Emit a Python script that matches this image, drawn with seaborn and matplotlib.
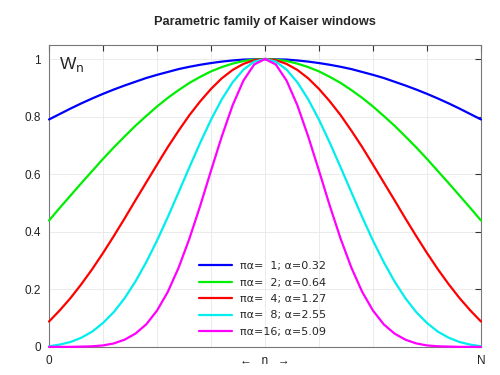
import numpy as np
import pandas as pd
import matplotlib
matplotlib.use("Agg")
import matplotlib.pyplot as plt
import seaborn as sns

# ------------------------------------------------------------
# data: window value W_n at 41 sample positions n/N (0 .. 1)
# ------------------------------------------------------------
n_pos = np.linspace(0, 1, 41)

w_pa1 = [0.790, 0.809, 0.828, 0.846, 0.863, 0.879, 0.894, 0.908, 0.921, 0.934,
         0.945, 0.955, 0.965, 0.973, 0.980, 0.986, 0.991, 0.995, 0.998, 0.999,
         1.000,
         0.999, 0.998, 0.995, 0.991, 0.986, 0.980, 0.973, 0.965, 0.955, 0.945,
         0.934, 0.921, 0.908, 0.894, 0.879, 0.863, 0.846, 0.828, 0.809, 0.790]

w_pa2 = [0.439, 0.483, 0.526, 0.569, 0.611, 0.653, 0.693, 0.731, 0.768, 0.802,
         0.835, 0.865, 0.892, 0.917, 0.938, 0.957, 0.972, 0.984, 0.993, 0.998,
         1.000,
         0.998, 0.993, 0.984, 0.972, 0.957, 0.938, 0.917, 0.892, 0.865, 0.835,
         0.802, 0.768, 0.731, 0.693, 0.653, 0.611, 0.569, 0.526, 0.483, 0.439]

w_pa4 = [0.088, 0.127, 0.170, 0.218, 0.270, 0.326, 0.385, 0.446, 0.509, 0.571,
         0.633, 0.694, 0.751, 0.805, 0.853, 0.896, 0.933, 0.962, 0.983, 0.996,
         1.000,
         0.996, 0.983, 0.962, 0.933, 0.896, 0.853, 0.805, 0.751, 0.694, 0.633,
         0.571, 0.509, 0.446, 0.385, 0.326, 0.270, 0.218, 0.170, 0.127, 0.088]

w_pa8 = [0.002, 0.008, 0.017, 0.032, 0.053, 0.083, 0.121, 0.169, 0.227, 0.294,
         0.369, 0.451, 0.537, 0.624, 0.709, 0.789, 0.860, 0.919, 0.963, 0.991,
         1.000,
         0.991, 0.963, 0.919, 0.860, 0.789, 0.709, 0.624, 0.537, 0.451, 0.369,
         0.294, 0.227, 0.169, 0.121, 0.083, 0.053, 0.032, 0.017, 0.008, 0.002]

w_pa16 = [0.000, 0.000, 0.000, 0.001, 0.002, 0.005, 0.012, 0.025, 0.046, 0.078,
          0.126, 0.191, 0.275, 0.376, 0.490, 0.612, 0.731, 0.839, 0.925, 0.981,
          1.000,
          0.981, 0.925, 0.839, 0.731, 0.612, 0.490, 0.376, 0.275, 0.191, 0.126,
          0.078, 0.046, 0.025, 0.012, 0.005, 0.002, 0.001, 0.000, 0.000, 0.000]

labels = ["πα=  1; α=0.32", "πα=  2; α=0.64", "πα=  4; α=1.27",
          "πα=  8; α=2.55", "πα=16; α=5.09"]
colors = ["#0000ff", "#00ee00", "#ff0000", "#00eeee", "#ff00ff"]

df = pd.concat([
    pd.DataFrame({"n": n_pos, "w": w, "win": lab})
    for w, lab in zip([w_pa1, w_pa2, w_pa4, w_pa8, w_pa16], labels)
])

# ------------------------------------------------------------
# plot
# ------------------------------------------------------------
sns.set_style("white")
plt.rcParams["font.family"] = ["Liberation Sans", "DejaVu Sans"]

fig = plt.figure(figsize=(5, 3.75), dpi=100)
ax = fig.add_axes([0.098, 0.075, 0.864, 0.806])

sns.lineplot(data=df, x="n", y="w", hue="win", hue_order=labels,
             palette=colors, linewidth=1.6, ax=ax, legend=False,
             clip_on=False, zorder=3)

ax.set_xlim(0, 1)
ax.set_ylim(0, 1.05)
ax.set_xticks(np.linspace(0, 1, 9))
ax.set_xticklabels(["0", "", "", "", "←   n   →", "", "", "", "N"])
ax.set_yticks([0, 0.2, 0.4, 0.6, 0.8, 1.0])
ax.set_yticklabels(["0", "0.2", "0.4", "0.6", "0.8", "1"])
ax.set_xlabel("")
ax.set_ylabel("")

ax.grid(True, color="#e8e8e8", linewidth=0.6)
ax.set_axisbelow(True)
for sp in ax.spines.values():
    sp.set_color("#777777")
    sp.set_linewidth(0.8)
ax.tick_params(direction="in", length=4, width=0.8, color="#333333",
               top=True, right=True, labelsize=8.5, labelcolor="#222222", pad=6)

ax.set_title("Parametric family of Kaiser windows", fontsize=9.2,
             fontweight="bold", pad=14)

# W_n label in the top-left corner
ax.text(0.023, 0.965, r"W$_\mathrm{n}$", fontsize=12.5, ha="left", va="baseline")

handles = [plt.Line2D([], [], color=c, lw=1.6) for c in colors]
ax.legend(handles, labels, loc="lower center", bbox_to_anchor=(0.494, 0.0),
          frameon=False, handlelength=3.0, handletextpad=0.7,
          labelspacing=0.58, prop={"family": "DejaVu Sans", "size": 8})

fig.savefig("out.png", dpi=100)
